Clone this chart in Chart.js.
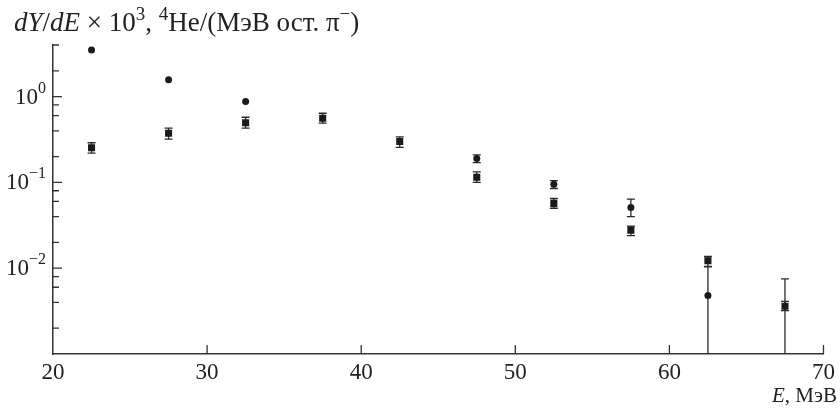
<!DOCTYPE html>
<html>
<head>
<meta charset="utf-8">
<script src="https://cdn.jsdelivr.net/npm/chart.js@4"></script>
<style>
  html, body { margin: 0; padding: 0; background: #fff; }
  #wrap { width: 840px; height: 409px; }
</style>
</head>
<body>
<div id="wrap"><canvas id="chart"></canvas></div>
<script>
// energy bins, MeV
const energy = [22.5, 27.5, 32.5, 37.5, 42.5, 47.5, 52.5, 57.5, 62.5, 67.5];

// circles
const circleY  = [3.5, 1.57, 0.875, null, null, 0.19, 0.095, 0.051, 0.0048, null];
const circleLo = [null, null, null, null, null, 0.17, 0.085, 0.040, 0.0001, 0.0001];
const circleHi = [null, null, null, null, null, 0.21, 0.105, 0.064, 0.0105, 0.0075];

// squares
const squareY  = [0.254, 0.374, 0.497, 0.56, 0.30, 0.115, 0.057, 0.0278, 0.0122, 0.0036];
const squareLo = [0.22, 0.32, 0.43, 0.49, 0.256, 0.10, 0.050, 0.024, 0.0104, 0.0032];
const squareHi = [0.29, 0.43, 0.575, 0.64, 0.34, 0.133, 0.065, 0.031, 0.0137, 0.0041];

// axes
const xTicks = [20, 30, 40, 50, 60, 70];
const yDecades = [-3, -2, -1, 0];
const yMinor = [2, 4, 6, 8];
const yMin = 0.001;
const yMax = 4;

const FONT = "'Liberation Serif', 'Times New Roman', serif";
const INK = "#222";

function toPoints(ys) {
  return energy.map((e, i) => ({ x: e, y: ys[i] }));
}

// draws text made of parts: {t, it, sup}
function drawParts(ctx, parts, x, y, size, align, supScale) {
  const supSize = Math.round(size * (supScale || 0.68));
  let total = 0;
  parts.forEach(p => {
    ctx.font = (p.it ? "italic " : "") + (p.sup ? supSize : size) + "px " + FONT;
    p.w = ctx.measureText(p.t).width;
    total += p.w;
  });
  let cx = align === "right" ? x - total : x;
  parts.forEach(p => {
    ctx.font = (p.it ? "italic " : "") + (p.sup ? supSize : size) + "px " + FONT;
    ctx.fillText(p.t, cx, p.sup ? y - size * 0.4 : y);
    cx += p.w;
  });
}

const errorBars = {
  id: "errorBars",
  beforeDatasetsDraw(chart) {
    const ctx = chart.ctx;
    const xs = chart.scales.x, ys = chart.scales.y;
    const area = chart.chartArea;
    ctx.save();
    ctx.beginPath();
    ctx.rect(area.left, area.top - 5, area.right - area.left, area.bottom - area.top + 5);
    ctx.clip();
    ctx.strokeStyle = "#2a2a2a";
    ctx.lineWidth = 1.3;
    [[circleLo, circleHi], [squareLo, squareHi]].forEach(([lo, hi]) => {
      energy.forEach((e, i) => {
        if (lo[i] == null || hi[i] == null) return;
        const px = xs.getPixelForValue(e);
        const y1 = ys.getPixelForValue(lo[i]);
        const y2 = ys.getPixelForValue(hi[i]);
        ctx.beginPath();
        ctx.moveTo(px, y1); ctx.lineTo(px, y2);
        ctx.moveTo(px - 4, y1); ctx.lineTo(px + 4, y1);
        ctx.moveTo(px - 4, y2); ctx.lineTo(px + 4, y2);
        ctx.stroke();
      });
    });
    ctx.restore();
  },
  afterDraw(chart) {
    const ctx = chart.ctx;
    const xs = chart.scales.x, ys = chart.scales.y;
    const area = chart.chartArea;
    ctx.save();
    ctx.strokeStyle = "#333";
    ctx.lineWidth = 1.3;
    // inward ticks
    ctx.beginPath();
    xs.ticks.forEach(t => {
      if (t.value <= xs.min) return;
      const px = xs.getPixelForValue(t.value);
      ctx.moveTo(px, area.bottom); ctx.lineTo(px, area.bottom - 9);
    });
    ys.ticks.forEach(t => {
      const py = ys.getPixelForValue(t.value);
      if (t.value <= yMin * 1.001) return;
      const len = t.major ? 9 : 6;
      ctx.moveTo(area.left, py); ctx.lineTo(area.left + len, py);
    });
    ctx.stroke();

    // y tick labels 10^n
    ctx.fillStyle = INK;
    ctx.textBaseline = "middle";
    ys.ticks.forEach(t => {
      if (!t.major || t.value <= yMin * 1.001) return;
      const n = Math.round(Math.log10(t.value));
      const py = ys.getPixelForValue(t.value);
      drawParts(ctx, [{ t: "10" }, { t: n < 0 ? "\u2212" + (-n) : String(n), sup: true }],
        area.left - 7, py + 1, 23, "right");
    });

    // axis titles
    ctx.textBaseline = "alphabetic";
    drawParts(ctx, [
      { t: "dY", it: true }, { t: "/" }, { t: "dE", it: true },
      { t: " \u00d7 10" }, { t: "3", sup: true },
      { t: ", " }, { t: "4", sup: true },
      { t: "He/(МэВ ост. \u03c0" }, { t: "\u2212", sup: true }, { t: ")" }
    ], 14, 31, 27, "left", 0.7);
    drawParts(ctx, [{ t: "E", it: true }, { t: ", МэВ" }], 837, 402, 21, "right");
    ctx.restore();
  }
};

new Chart(document.getElementById("chart"), {
  type: "scatter",
  data: {
    datasets: [
      {
        label: "circles",
        data: toPoints(circleY),
        pointStyle: "circle",
        pointRadius: 3.5,
        backgroundColor: "#1a1a1a",
        borderColor: "#1a1a1a",
        borderWidth: 0
      },
      {
        label: "squares",
        data: toPoints(squareY),
        pointStyle: "rect",
        pointRadius: 5,
        backgroundColor: "#1a1a1a",
        borderColor: "#1a1a1a",
        borderWidth: 0
      }
    ]
  },
  options: {
    responsive: true,
    maintainAspectRatio: false,
    animation: false,
    layout: { padding: { top: 45, right: 14, left: 0, bottom: 0 } },
    plugins: { legend: { display: false }, tooltip: { enabled: false } },
    scales: {
      x: {
        type: "linear",
        min: 20,
        max: 70,
        afterBuildTicks: s => { s.ticks = xTicks.map(v => ({ value: v })); },
        afterFit: s => { s.height = 55; },
        grid: { drawOnChartArea: false, drawTicks: false },
        border: { display: true, color: "#333", width: 1.5 },
        ticks: {
          padding: 5,
          color: INK,
          font: { family: FONT, size: 23 },
          maxRotation: 0
        }
      },
      y: {
        type: "logarithmic",
        min: yMin,
        max: yMax,
        afterBuildTicks: s => {
          const ticks = [];
          yDecades.forEach(d => {
            const base = Math.pow(10, d);
            ticks.push({ value: base, major: true });
            yMinor.forEach(m => {
              if (m * base <= yMax) ticks.push({ value: m * base, major: false });
            });
          });
          s.ticks = ticks;
        },
        afterFit: s => { s.width = 53; },
        grid: { drawOnChartArea: false, drawTicks: false },
        border: { display: true, color: "#333", width: 1.5 },
        ticks: { display: false }
      }
    }
  },
  plugins: [errorBars]
});
</script>
</body>
</html>
